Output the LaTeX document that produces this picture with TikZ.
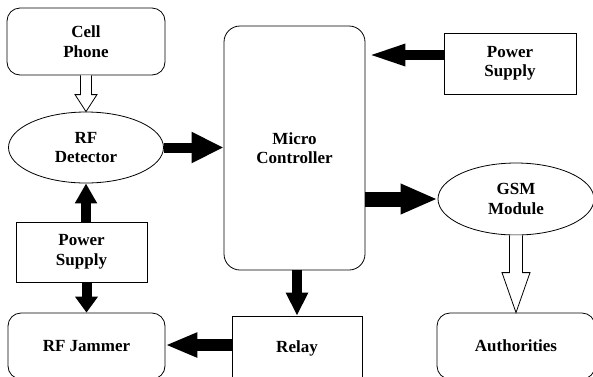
\documentclass[tikz,border=0pt]{standalone}
\usepackage{fontspec}
\setmainfont{Liberation Serif}
\usetikzlibrary{arrows.meta}
\usetikzlibrary{calc}
\usetikzlibrary{shapes.geometric}

\tikzset{
    blk/.style={draw, line width=0.8pt, align=center, font=\bfseries\fontsize{17}{19.5}\selectfont},
    rbox/.style={blk, rounded corners=13pt},
    sbox/.style={blk},
    oval/.style={blk, ellipse, inner sep=0pt},
    fat/.style n args={3}{line width=#1, -{Triangle[length=#2,width=#3]}},
    hollow/.style={draw, line width=0.8pt, fill=white, line join=miter}
}

\begin{document}
\begin{tikzpicture}[x=1pt, y=-1pt]
        \useasboundingbox (0,0) rectangle (593,376);

        \coordinate (A) at (86,41.5);
        \coordinate (B) at (86,147.5);
        \coordinate (C) at (81.5,252);
        \coordinate (D) at (86.5,346);
        \coordinate (E) at (294.5,148);
        \coordinate (F) at (510,63.5);
        \coordinate (G) at (516,199);
        \coordinate (H) at (297,348);
        \coordinate (I) at (516,346);

        \node[rbox, minimum width=158pt, minimum height=67pt] (cell) at (A) {Cell\\Phone};
        \node[oval, minimum width=155pt, minimum height=71pt] (det) at (B) {RF\\Detector};
        \node[sbox, minimum width=131pt, minimum height=60pt] (psl) at (C) {Power\\Supply};
        \node[rbox, minimum width=157pt, minimum height=66pt] (jam) at (D) {RF Jammer};
        \node[rbox, rounded corners=16pt, minimum width=141pt, minimum height=244pt] (mc) at (E) {Micro\\Controller};
        \node[sbox, minimum width=132pt, minimum height=61pt] (psr) at (F) {Power\\Supply};
        \node[oval, minimum width=156pt, minimum height=72pt] (gsm) at (G) {GSM\\Module};
        \node[sbox, minimum width=130pt, minimum height=64pt] (relay) at (H) {Relay};
        \node[rbox, minimum width=158pt, minimum height=66pt] (auth) at (I) {Authorities};

        % solid arrows
        \draw[fat={10pt}{32pt}{29pt}] (det.east) -- (det.east -| mc.west);
        \draw[fat={10pt}{40pt}{19pt}] ($(psr.west)+(0,-8.5)$) coordinate (p) -- (p -| mc.east);
        \draw[fat={15pt}{37pt}{28pt}] (gsm.west -| mc.east) -- (gsm.west);
        \draw[fat={10pt}{23pt}{21pt}] (relay.north |- mc.south) -- (relay.north);
        \draw[fat={12pt}{32pt}{23pt}] ($(jam.east -| relay.west)+(0,-1)$) coordinate (q) -- (q -| jam.east);
        \draw[fat={10pt}{20pt}{21pt}] (det.south |- psl.north) -- (det.south);
        \draw[fat={10pt}{16pt}{22pt}] (jam.north |- psl.south) -- (jam.north);

        % open arrows
        \draw[hollow] ($(cell.south)+(-5.5,0)$) -- ($(det.north)+(-5.5,-17)$) -- ++(-5.5,0) -- (det.north)
            -- ++(11,-17) -- ++(-5.5,0) -- ($(cell.south)+(5.5,0)$);
        \draw[hollow] ($(gsm.south)+(-6.5,0)$) -- ($(auth.north)+(-6.5,-40)$) -- ++(-7.5,0) -- (auth.north)
            -- ++(14,-40) -- ++(-7.5,0) -- ($(gsm.south)+(6.5,0)$);
    \end{tikzpicture}
\end{document}
